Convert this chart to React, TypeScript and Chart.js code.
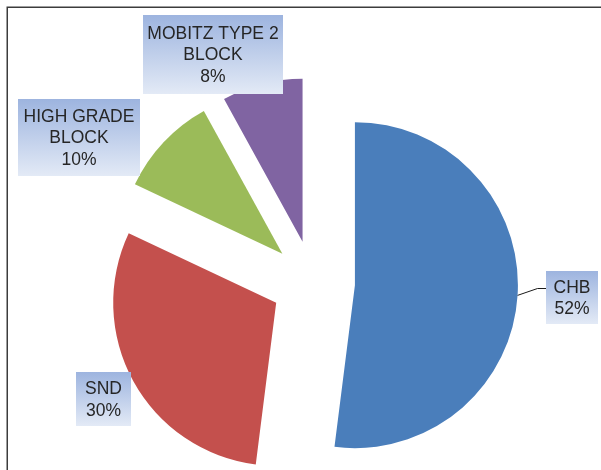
import React, { useEffect, useRef } from 'react';
import { Chart, registerables } from 'chart.js';

Chart.register(...registerables);

// ---- data ----
const categories = ['CHB', 'SND', 'HIGH GRADE BLOCK', 'MOBITZ TYPE 2 BLOCK'];
const values = [52, 30, 10, 8];
const labelLines = [['CHB'], ['SND'], ['HIGH GRADE', 'BLOCK'], ['MOBITZ TYPE 2', 'BLOCK']];

// ---- styles / layout ----
const colors = ['#4A7EBB', '#C4504D', '#9BBB59', '#8064A2'];
const EXPLODE = 42;
const RADIUS = 163;
const labelBoxes = [
  { x: 546, y: 271, w: 52, h: 53, leader: true },
  { x: 76, y: 372, w: 55, h: 54, leader: false },
  { x: 18, y: 99, w: 122, h: 77, leader: false },
  { x: 143, y: 15, w: 140, h: 79, leader: false },
];

const explodePlugin = {
  id: 'explode',
  beforeDatasetDraw(chart: any, args: any) {
    const ctx = chart.ctx;
    args.meta.data.forEach((arc: any) => {
      const mid = (arc.startAngle + arc.endAngle) / 2;
      ctx.save();
      ctx.translate(Math.cos(mid) * EXPLODE, Math.sin(mid) * EXPLODE);
      arc.draw(ctx);
      ctx.restore();
    });
    return false;
  },
};

const labelPlugin = {
  id: 'boxLabels',
  afterDraw(chart: any) {
    const ctx = chart.ctx;
    const meta = chart.getDatasetMeta(0);
    const total = values.reduce((a, b) => a + b, 0);
    ctx.save();
    // frame
    ctx.strokeStyle = '#3c3c3c';
    ctx.lineWidth = 1.5;
    ctx.beginPath();
    ctx.moveTo(7.25, chart.height);
    ctx.lineTo(7.25, 7.25);
    ctx.lineTo(chart.width, 7.25);
    ctx.stroke();

    meta.data.forEach((arc: any, i: number) => {
      const b = labelBoxes[i];
      if (b.leader) {
        const mid = (arc.startAngle + arc.endAngle) / 2;
        const cx = arc.x + Math.cos(mid) * EXPLODE;
        const cy = arc.y + Math.sin(mid) * EXPLODE;
        const sx = cx + Math.cos(mid) * arc.outerRadius;
        const sy = cy + Math.sin(mid) * arc.outerRadius;
        ctx.strokeStyle = '#1a1a1a';
        ctx.lineWidth = 1;
        ctx.beginPath();
        ctx.moveTo(sx, sy);
        ctx.lineTo(b.x - 8.5, b.y + 17.5);
        ctx.lineTo(b.x, b.y + 17.5);
        ctx.stroke();
      }
      const g = ctx.createLinearGradient(0, b.y, 0, b.y + b.h);
      g.addColorStop(0, '#9DB4DF');
      g.addColorStop(1, '#E3EAF6');
      ctx.fillStyle = g;
      ctx.fillRect(b.x, b.y, b.w, b.h);
      const lines = [...labelLines[i], Math.round((values[i] / total) * 100) + '%'];
      ctx.fillStyle = '#262626';
      ctx.font = '17.5px "Liberation Sans", Arial, sans-serif';
      ctx.textAlign = 'center';
      ctx.textBaseline = 'middle';
      const lh = 21.5;
      const y0 = b.y + b.h / 2 - ((lines.length - 1) * lh) / 2 + 1;
      lines.forEach((t, k) => ctx.fillText(t, b.x + b.w / 2, y0 + k * lh));
    });
    ctx.restore();
  },
};

export default function App() {
  const ref = useRef<HTMLCanvasElement>(null);
  useEffect(() => {
    if (!ref.current) return;
    const chart = new Chart(ref.current, {
      type: 'pie',
      data: {
        labels: categories,
        datasets: [
          {
            data: values,
            backgroundColor: colors,
            borderWidth: 0,
          },
        ],
      },
      options: {
        responsive: false,
        animation: false,
        radius: RADIUS,
        layout: { padding: { left: 25, right: 0, top: 95, bottom: 0 } },
        plugins: {
          legend: { display: false },
          tooltip: { enabled: false },
        },
      } as any,
      plugins: [explodePlugin, labelPlugin],
    });
    return () => chart.destroy();
  }, []);
  return (
    <div style={{ position: 'fixed', left: 0, top: 0, width: 601, height: 470, background: '#fff' }}>
      <canvas ref={ref} width={601} height={470} />
    </div>
  );
}
